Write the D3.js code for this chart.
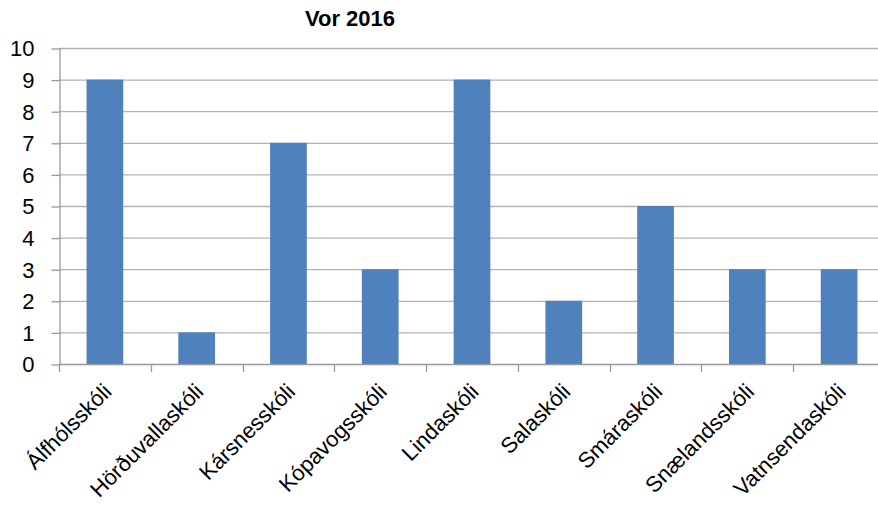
<!DOCTYPE html>
<html>
<head>
<meta charset="utf-8">
<script src="https://cdn.jsdelivr.net/npm/d3@7"></script>
<style>
  body { margin: 0; background: #fff; }
  svg text { font-family: "Liberation Sans", Arial, sans-serif; fill: #000; }
</style>
</head>
<body>
<div id="graph"></div>
<script>
// chart data
let title = "Vor 2016";
let schools = [
  "Álfhólsskóli",
  "Hörðuvallaskóli",
  "Kársnesskóli",
  "Kópavogsskóli",
  "Lindaskóli",
  "Salaskóli",
  "Smáraskóli",
  "Snælandsskóli",
  "Vatnsendaskóli",
];
let counts = [9, 1, 7, 3, 9, 2, 5, 3, 3];
let yTicks = [0, 1, 2, 3, 4, 5, 6, 7, 8, 9, 10];

let width = 878,
  height = 506;
let plot = { left: 59, right: 885, top: 48, bottom: 364 };

let svg = d3
  .select("#graph")
  .append("svg")
  .attr("width", width)
  .attr("height", height);

let x = d3
  .scaleBand()
  .domain(schools)
  .range([plot.left, plot.right])
  .paddingInner(0.6)
  .paddingOuter(0.3);

let y = d3.scaleLinear().domain([0, 10]).range([plot.bottom, plot.top]);

// gridlines
svg
  .append("g")
  .selectAll("line")
  .data(yTicks.slice(1))
  .enter()
  .append("line")
  .attr("x1", plot.left)
  .attr("x2", width)
  .attr("y1", (d) => y(d) + 0.5)
  .attr("y2", (d) => y(d) + 0.5)
  .attr("stroke", "#b3b3b3")
  .attr("stroke-width", 1.3);

// y axis
let yAxis = svg
  .append("g")
  .attr("transform", "translate(" + (plot.left + 0.5) + ",0)")
  .call(d3.axisLeft(y).tickValues(yTicks).tickSize(8).tickSizeOuter(0));
yAxis.select(".domain").attr("stroke", "#999").attr("stroke-width", 1.3);
yAxis.selectAll(".tick line").attr("stroke", "#999").attr("stroke-width", 1.3).attr("transform", "translate(0,0.5)");
yAxis
  .selectAll("text")
  .style("font-size", "22px")
  .attr("x", -25)
  .attr("dy", "0.36em");

// bars
svg
  .append("g")
  .selectAll("rect")
  .data(counts)
  .enter()
  .append("rect")
  .attr("x", (d, i) => x(schools[i]))
  .attr("y", (d) => y(d))
  .attr("width", x.bandwidth())
  .attr("height", (d) => y(0) - y(d))
  .attr("fill", "#4f81bd");

// x axis, ticks between categories
let step = x.step();
let boundaries = d3.range(schools.length + 1).map((i) => plot.left + i * step);
let xAxis = svg.append("g");
xAxis
  .append("line")
  .attr("x1", plot.left)
  .attr("x2", width)
  .attr("y1", plot.bottom + 0.5)
  .attr("y2", plot.bottom + 0.5)
  .attr("stroke", "#999")
  .attr("stroke-width", 1.3);
xAxis
  .selectAll(".tk")
  .data(boundaries)
  .enter()
  .append("line")
  .attr("x1", (d) => Math.round(d) + 0.5)
  .attr("x2", (d) => Math.round(d) + 0.5)
  .attr("y1", plot.bottom)
  .attr("y2", plot.bottom + 8)
  .attr("stroke", "#999")
  .attr("stroke-width", 1.3);

// rotated category labels
xAxis
  .selectAll("text")
  .data(schools)
  .enter()
  .append("text")
  .attr("transform", (d) => {
    let cx = x(d) + x.bandwidth() / 2;
    return "translate(" + (cx - 3) + "," + (plot.bottom + 18) + ") rotate(-45)";
  })
  .attr("text-anchor", "end")
  .attr("dy", "0.71em")
  .style("font-size", "22px")
  .text((d) => d);

// title
svg
  .append("text")
  .attr("x", 350)
  .attr("y", 26)
  .attr("text-anchor", "middle")
  .style("font-size", "22px")
  .style("font-weight", "bold")
  .text(title);
</script>
</body>
</html>
